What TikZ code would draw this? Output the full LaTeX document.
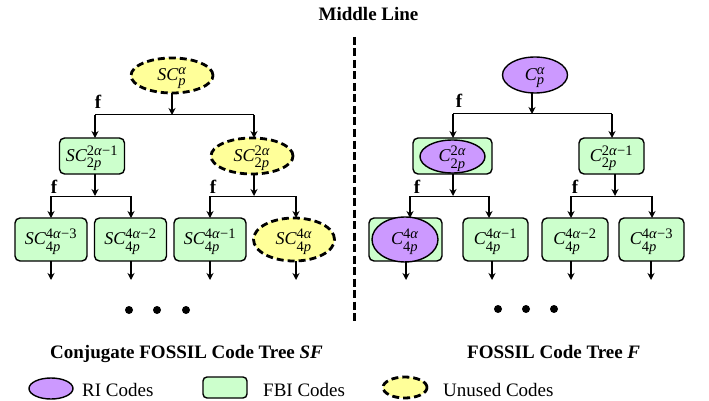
\documentclass[tikz,border=0pt]{standalone}
\usepackage{fontspec}
\usepackage{amsmath}
\setmainfont{Liberation Serif}
\usetikzlibrary{shapes.geometric,arrows.meta}
\DeclareMathSizes{18}{18}{14.5}{11}
\definecolor{ripurple}{RGB}{204,153,255}
\definecolor{fbigreen}{RGB}{204,255,204}
\definecolor{unyellow}{RGB}{255,255,153}
\newcommand\codetxt[3]{\makebox[0pt]{\raisebox{-0.3em}[0pt][0pt]{$\textit{#1}^{\text{#2}}_{\text{#3}}$}}}
\begin{document}
\begin{tikzpicture}[x=1pt,y=-1pt,
  base/.style={inner sep=0pt,outer sep=0pt,font=\fontsize{18}{20}\selectfont},
  fbi/.style={base,rectangle,draw,line width=1.4pt,fill=fbigreen,rounded corners=5pt},
  ri/.style={base,ellipse,draw,line width=1.4pt,fill=ripurple},
  unused/.style={base,ellipse,draw,line width=2.8pt,dash pattern=on 7pt off 4pt,fill=unyellow},
  sz/.style n args={2}{minimum width=#1pt,minimum height=#2pt},
  arr/.style={-{Stealth[length=7pt,width=7pt]},line width=1.6pt},
  bar/.style={line width=1pt},
  flab/.style={font=\fontsize{19}{22}\selectfont\bfseries,inner sep=0pt},
  title/.style={font=\fontsize{19}{22}\selectfont\bfseries,inner sep=0pt},
  legtext/.style={font=\fontsize{19}{22}\selectfont,inner sep=0pt,anchor=base west},
  blackdot/.style={circle,fill=black,inner sep=0pt,minimum size=8pt},
  midline/.style={line width=3pt,dash pattern=on 8pt off 3.5pt}
]
\useasboundingbox (0,0) rectangle (709,401);

% middle line
\node[title,anchor=base] (mid) at (368.5,21) {Middle Line};
\coordinate (mt) at (354,37);
\coordinate (mb) at (354,322);
\draw[midline] (mt) -- (mb);

% ---------------- left tree ----------------
\node[unused,sz={82}{35}] (s0) at (172,75.5) {\codetxt{SC}{\textit{α}}{\textit{p}}};
\coordinate (s0j) at (172,115);
\coordinate (s0l) at (95,115);
\coordinate (s0r) at (254,115);
\draw[arr] (s0) -- (s0j);
\draw[bar] (s0l) -- (s0r);
\node[flab] (f0) at (98,102) {f};

\node[fbi,sz={65}{36}] (s1) at (92,156) {\codetxt{SC}{2\textit{α}−1}{2\textit{p}}};
\node[unused,sz={82}{36}] (s2) at (252,156) {\codetxt{SC}{2\textit{α}}{2\textit{p}}};
\draw[arr] (s0l) -- (s0l |- s1.north);
\draw[arr] (s0r) -- (s0r |- s2.north);

\coordinate (s1j) at (95,196);
\coordinate (s1l) at (51,196);
\coordinate (s1r) at (131,196);
\draw[arr] (s1j |- s1.south) -- (s1j);
\draw[bar] (s1l) -- (s1r);
\node[flab] (f1) at (54,187) {f};

\coordinate (s2j) at (254,196);
\coordinate (s2l) at (210,196);
\coordinate (s2r) at (296,196);
\draw[arr] (s2j |- s2.south) -- (s2j);
\draw[bar] (s2l) -- (s2r);
\node[flab] (f2) at (213,187) {f};

\node[fbi,sz={72}{43}] (s3) at (51,239.5) {\codetxt{SC}{4\textit{α}−3}{4\textit{p}}};
\node[fbi,sz={72}{43}] (s4) at (130.5,239.5) {\codetxt{SC}{4\textit{α}−2}{4\textit{p}}};
\node[fbi,sz={72}{43}] (s5) at (210,239.5) {\codetxt{SC}{4\textit{α}−1}{4\textit{p}}};
\node[unused,sz={81}{43}] (s6) at (294,239.5) {\codetxt{SC}{4\textit{α}}{4\textit{p}}};
\draw[arr] (s1l) -- (s1l |- s3.north);
\draw[arr] (s1r) -- (s1r |- s4.north);
\draw[arr] (s2l) -- (s2l |- s5.north);
\draw[arr] (s2r) -- (s2r |- s6.north);

\coordinate (s3e) at (51,280);
\coordinate (s4e) at (131,280);
\coordinate (s5e) at (210,280);
\coordinate (s6e) at (296,280);
\draw[arr] (s3e |- s3.south) -- (s3e);
\draw[arr] (s4e |- s4.south) -- (s4e);
\draw[arr] (s5e |- s5.south) -- (s5e);
\draw[arr] (s6e |- s6.south) -- (s6e);

\node[blackdot] (ld1) at (129,310) {};
\node[blackdot] (ld2) at (157,310) {};
\node[blackdot] (ld3) at (186,310) {};

% ---------------- right tree ----------------
\node[ri,sz={65}{36}] (c0) at (535,75) {\codetxt{C}{\textit{α}}{\textit{p}}};
\coordinate (c0j) at (532,114);
\coordinate (c0l) at (453,114);
\coordinate (c0r) at (612,114);
\draw[arr] (c0j |- c0.south) -- (c0j);
\draw[bar] (c0l) -- (c0r);
\node[flab] (f3) at (459,101) {f};

\node[fbi,sz={79}{36}] (c1) at (452.5,156) {};
\node[ri,sz={65}{33}] (c1i) at (452.5,156.5) {\codetxt{C}{2\textit{α}}{2\textit{p}}};
\node[fbi,sz={65}{36}] (c2) at (611.5,156) {\codetxt{C}{2\textit{α}−1}{2\textit{p}}};
\draw[arr] (c0l) -- (c0l |- c1.north);
\draw[arr] (c0r) -- (c0r |- c2.north);

\coordinate (c1j) at (453,196);
\coordinate (c1l) at (410,196);
\coordinate (c1r) at (489,196);
\draw[arr] (c1j |- c1.south) -- (c1j);
\draw[bar] (c1l) -- (c1r);
\node[flab] (f4) at (417,187) {f};

\coordinate (c2j) at (615,196);
\coordinate (c2l) at (571,196);
\coordinate (c2r) at (652,196);
\draw[arr] (c2j |- c2.south) -- (c2j);
\draw[bar] (c2l) -- (c2r);
\node[flab] (f5) at (575,187) {f};

\node[fbi,sz={73}{43}] (c3) at (405.5,239.5) {};
\node[ri,sz={66}{45}] (c3i) at (405,239.5) {\codetxt{C}{4\textit{α}}{4\textit{p}}};
\node[fbi,sz={65}{43}] (c4) at (495.5,239.5) {\codetxt{C}{4\textit{α}−1}{4\textit{p}}};
\node[fbi,sz={66}{43}] (c5) at (575,239.5) {\codetxt{C}{4\textit{α}−2}{4\textit{p}}};
\node[fbi,sz={65}{43}] (c6) at (651.5,239.5) {\codetxt{C}{4\textit{α}−3}{4\textit{p}}};
\draw[arr] (c1l) -- (c1l |- c3.north);
\draw[arr] (c1r) -- (c1r |- c4.north);
\draw[arr] (c2l) -- (c2l |- c5.north);
\draw[arr] (c2r) -- (c2r |- c6.north);

\coordinate (c3e) at (406,280);
\coordinate (c4e) at (492,280);
\coordinate (c5e) at (571,280);
\coordinate (c6e) at (651,280);
\draw[arr] (c3e |- c3.south) -- (c3e);
\draw[arr] (c4e |- c4.south) -- (c4e);
\draw[arr] (c5e |- c5.south) -- (c5e);
\draw[arr] (c6e |- c6.south) -- (c6e);

\node[blackdot] (rd1) at (498,309) {};
\node[blackdot] (rd2) at (526,309) {};
\node[blackdot] (rd3) at (554,309) {};

% ---------------- titles ----------------
\node[title,anchor=base west] (tl) at (50,358) {Conjugate FOSSIL Code Tree \textit{SF}};
\node[title,anchor=base west] (tr) at (467,358) {FOSSIL Code Tree \textit{F}};

% ---------------- legend ----------------
\node[ri,sz={44}{21}] (lg1) at (51,388.5) {};
\node[legtext] (lt1) at (82,396) {RI Codes};
\node[fbi,sz={44}{21},rounded corners=4pt] (lg2) at (225,387.5) {};
\node[legtext] (lt2) at (263,396) {FBI Codes};
\node[unused,sz={44}{21}] (lg3) at (405,387.5) {};
\node[legtext] (lt3) at (443,396) {Unused Codes};
\end{tikzpicture}
\end{document}
